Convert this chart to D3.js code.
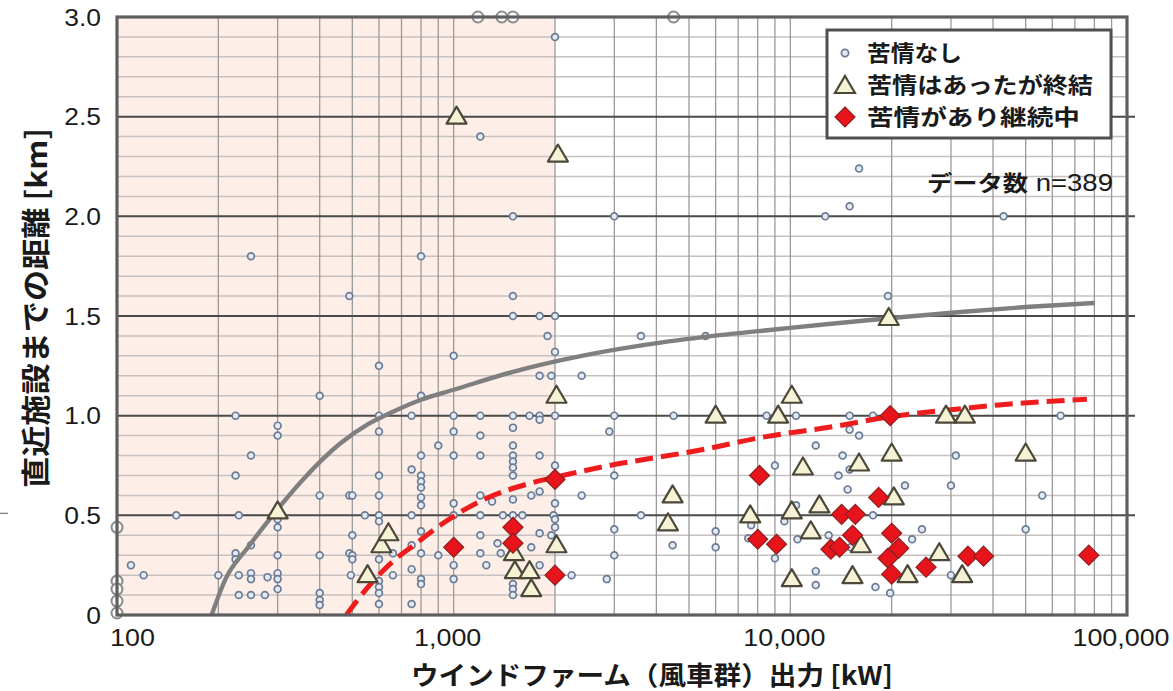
<!DOCTYPE html>
<html>
<head>
<meta charset="utf-8">
<script src="https://cdn.jsdelivr.net/npm/d3@7"></script>
<style>
  body { margin: 0; background: #fff; }
  svg { display: block; }
  .jp { font-family: "Noto Sans CJK JP", "Noto Sans", sans-serif; font-weight: 700; fill: #1a1a1a; }
  .num { font-family: "Liberation Sans", Arial, sans-serif; fill: #1a1a1a; }
</style>
</head>
<body>
<svg class="chart" width="1173" height="691"></svg>
<script>
// ---- data (kW, km) ----
const xTicks = [100, 1000, 10000, 100000];
const xTickLabels = ["100", "1,000", "10,000", "100,000"];
const yTicks = [0, 0.5, 1.0, 1.5, 2.0, 2.5, 3.0];
const yTickLabels = ["0", "0.5", "1.0", "1.5", "2.0", "2.5", "3.0"];
const shadedRange = [100, 2000];

const seriesNames = ["苦情なし", "苦情はあったが終結", "苦情があり継続中"];
const noteText = ["データ数", " n=389"];
const xTitle = "ウインドファーム（風車群）出力 [kW]";
const yTitle = "直近施設までの距離 [km]";

// 苦情なし
const noComplaint = [
  [1180,3.0],[1390,3.0],[1500,3.0],[4500,3.0],
  [100,0.44],[100,0.17],[100,0.13],[100,0.07],[100,0.01],
  [2000,2.9],[1200,2.4],[1500,2.0],[3000,2.0],[12700,2.0],[43000,2.0],[15000,2.05],[16000,2.24],
  [250,1.8],[800,1.8],[490,1.6],[1500,1.6],[19500,1.6],
  [1500,1.5],[1800,1.5],[2000,1.5],[1900,1.4],[3600,1.4],[5600,1.4],[2000,1.32],[1000,1.3],[600,1.25],
  [1800,1.2],[1950,1.2],[2400,1.2],[400,1.1],[800,1.1],
  [225,1.0],[600,1.0],[750,1.0],[1000,1.0],[1200,1.0],[1500,1.0],[1680,1.0],[1800,1.0],[2000,1.0],
  [3000,1.0],[4500,1.0],[8500,1.0],[10400,1.0],[15000,1.0],[17600,1.0],[63500,1.0],
  [1800,0.98],[300,0.95],[300,0.9],[600,0.92],[1000,0.92],[1500,0.94],[2900,0.92],[1200,0.9],
  [15000,0.93],[16000,0.9],[900,0.85],[1500,0.85],[11900,0.85],
  [250,0.8],[800,0.8],[1000,0.8],[1200,0.8],[1500,0.8],[1800,0.8],[14300,0.8],[31000,0.8],
  [1500,0.77],[1500,0.74],[2000,0.75],[750,0.73],[9000,0.75],[15000,0.73],[13900,0.7],
  [225,0.7],[600,0.7],[800,0.7],[1500,0.7],[3000,0.7],[800,0.67],[800,0.64],[14800,0.63],[21900,0.65],[30000,0.65],
  [400,0.6],[490,0.6],[500,0.6],[600,0.6],[1200,0.6],[1700,0.6],[2400,0.6],[56000,0.6],[1800,0.62],
  [800,0.59],[1500,0.58],[1300,0.57],[1000,0.56],[2000,0.56],[800,0.55],[10400,0.55],
  [150,0.5],[230,0.5],[545,0.5],[600,0.5],[750,0.5],[1000,0.5],[1200,0.5],[1400,0.5],[1500,0.5],
  [1600,0.5],[1980,0.5],[3600,0.5],[17600,0.5],
  [300,0.48],[300,0.44],[600,0.47],[2000,0.48],[2000,0.44],[9600,0.47],[7650,0.45],
  [500,0.4],[800,0.42],[1200,0.4],[1800,0.41],[1950,0.4],[3000,0.43],[6000,0.42],[24600,0.43],[50000,0.43],[13000,0.4],
  [7500,0.385],[10500,0.38],[23000,0.38],[250,0.35],[750,0.35],[1350,0.36],[1700,0.34],[4470,0.35],[6000,0.34],[15100,0.34],
  [225,0.31],[300,0.3],[400,0.3],[490,0.31],[500,0.3],[660,0.31],[800,0.31],[900,0.3],[1200,0.31],[1380,0.31],[3000,0.3],
  [225,0.28],[500,0.28],[600,0.28],[9000,0.285],[110,0.25],[1000,0.25],[1250,0.25],[1800,0.25],[750,0.23],[11900,0.22],
  [120,0.2],[200,0.2],[230,0.2],[250,0.21],[280,0.19],[300,0.21],[495,0.2],[660,0.2],[2240,0.2],[30000,0.2],
  [250,0.18],[300,0.18],[600,0.17],[800,0.18],[1000,0.18],[2850,0.18],[800,0.155],[1500,0.155],[600,0.14],
  [300,0.13],[1500,0.13],[11900,0.15],[17900,0.14],
  [230,0.1],[250,0.1],[275,0.1],[400,0.11],[600,0.11],[1500,0.1],[19800,0.11],[400,0.075],[400,0.05],[600,0.055],[750,0.055]
];

// 苦情はあったが終結
const resolved = [
  [1020,2.5],[2040,2.31],[2020,1.1],[19600,1.49],[10100,1.1],[6000,1.0],[9200,1.0],[29000,1.0],[33000,1.0],
  [20000,0.81],[50000,0.81],[16000,0.76],[10900,0.74],[300,0.52],[4470,0.6],[4330,0.46],[7600,0.5],
  [10100,0.52],[12200,0.55],[20300,0.59],[11500,0.42],[16200,0.35],[27700,0.31],[10100,0.18],[15300,0.195],
  [22300,0.2],[32400,0.2],[555,0.2],[610,0.35],[640,0.41],[2020,0.35],[1510,0.31],[1520,0.22],[1680,0.22],[1700,0.13]
];

// 苦情があり継続中
const ongoing = [
  [1000,0.34],[1500,0.44],[1500,0.36],[2000,0.2],[2000,0.68],
  [8100,0.7],[19800,1.0],[18300,0.59],[14200,0.505],[15600,0.505],[8000,0.38],[9100,0.355],[15300,0.40],
  [13200,0.33],[14000,0.34],[20000,0.41],[21000,0.335],[19500,0.285],[20000,0.205],[25300,0.24],
  [33700,0.295],[37500,0.295],[77000,0.3]
];

// guide curves
const grayCurve = [
  [191,0],[210,0.18],[245,0.34],[290,0.5],[357,0.68],[460,0.86],[560,0.96],[660,1.02],[800,1.08],
  [1000,1.13],[1500,1.22],[2400,1.3],[3700,1.355],[5900,1.40],[9300,1.435],[13000,1.46],[20000,1.49],
  [32000,1.52],[50000,1.545],[80000,1.565]
];
const redCurve = [
  [480,0],[563,0.15],[661,0.27],[775,0.36],[930,0.46],[1220,0.577],[1680,0.66],[2110,0.70],[2710,0.74],
  [5500,0.83],[8470,0.895],[13400,0.945],[19800,0.995],[33200,1.037],[41700,1.054],[76000,1.082]
];

// ---- layout ----
const svg = d3.select(".chart");
const plot = { left: 117, right: 1127, top: 17, bottom: 615 };

const x = d3.scaleLog().domain([100, 100000]).range([plot.left, plot.right]);
const y = d3.scaleLinear().domain([0, 3]).range([plot.bottom, plot.top]);

// shaded band (small output farms)
svg.append("rect")
  .attr("x", x(shadedRange[0])).attr("y", plot.top)
  .attr("width", x(shadedRange[1]) - x(shadedRange[0]))
  .attr("height", plot.bottom - plot.top)
  .attr("fill", "#fdefe8");

// minor horizontal grid every 0.1 km
const minorY = d3.range(1, 30).map(i => i / 10).filter(v => Math.abs(v * 2 - Math.round(v * 2)) > 1e-6);
svg.append("g").selectAll("line").data(minorY).enter().append("line")
  .attr("x1", plot.left).attr("x2", plot.right)
  .attr("y1", d => y(d)).attr("y2", d => y(d))
  .attr("stroke", "#c6c0c0").attr("stroke-width", 1.5);

// vertical grid at 1..9 x decade
const minorX = [];
[100, 1000, 10000].forEach(dec => { for (let k = 2; k <= 10; k++) minorX.push(dec * k); });
svg.append("g").selectAll("line").data(minorX).enter().append("line")
  .attr("x1", d => x(d)).attr("x2", d => x(d))
  .attr("y1", plot.top).attr("y2", plot.bottom)
  .attr("stroke", "#9a9a9a").attr("stroke-width", 1.3);

// major horizontal grid
svg.append("g").selectAll("line").data(yTicks.slice(1, -1)).enter().append("line")
  .attr("x1", plot.left).attr("x2", plot.right + 8)
  .attr("y1", d => y(d)).attr("y2", d => y(d))
  .attr("stroke", "#4a4a4a").attr("stroke-width", 2);

// stray tick at far left (as in source)
svg.append("line").attr("x1", 0).attr("x2", 8)
  .attr("y1", y(0.5) - 2).attr("y2", y(0.5) - 2)
  .attr("stroke", "#777").attr("stroke-width", 1.2);

// 苦情なし circles
const isEdge = d => d[0] <= 100 || d[1] >= 3;
svg.append("g").selectAll("circle").data(noComplaint).enter().append("circle")
  .attr("cx", d => x(d[0])).attr("cy", d => y(d[1]))
  .attr("r", d => isEdge(d) ? 5.5 : 3.4)
  .attr("fill", d => isEdge(d) ? "#ffffff" : "#e4eaf2")
  .attr("stroke", d => isEdge(d) ? "#8a8a8a" : "#6b7b95")
  .attr("stroke-width", d => isEdge(d) ? 2 : 1.7);

// guide curves
const line = d3.line().x(d => x(d[0])).y(d => y(d[1])).curve(d3.curveMonotoneX);
svg.append("path").datum(grayCurve).attr("d", line)
  .attr("fill", "none").attr("stroke", "#7f7f7f").attr("stroke-width", 4.4);
svg.append("path").datum(redCurve).attr("d", line)
  .attr("fill", "none").attr("stroke", "#ee1c1c").attr("stroke-width", 5)
  .attr("stroke-dasharray", "18,8");

// triangles and diamonds
const triPath = (cx, cy) => `M${cx},${cy - 10}L${cx + 10},${cy + 7}L${cx - 10},${cy + 7}Z`;
const diaPath = (cx, cy) => `M${cx},${cy - 10}L${cx + 10},${cy}L${cx},${cy + 10}L${cx - 10},${cy}Z`;

svg.append("g").selectAll("path").data(resolved).enter().append("path")
  .attr("d", d => triPath(x(d[0]), y(d[1])))
  .attr("fill", "#f5f2d6").attr("stroke", "#4b4839").attr("stroke-width", 2.2)
  .attr("stroke-linejoin", "round");

svg.append("g").selectAll("path").data(ongoing).enter().append("path")
  .attr("d", d => diaPath(x(d[0]), y(d[1])))
  .attr("fill", "#e8141b").attr("stroke", "#8e1f1f").attr("stroke-width", 1.2);

// frame
svg.append("rect")
  .attr("x", plot.left).attr("y", plot.top)
  .attr("width", plot.right - plot.left).attr("height", plot.bottom - plot.top)
  .attr("fill", "none").attr("stroke", "#5e5e5e").attr("stroke-width", 3.2);

// y tick labels
svg.append("g").selectAll("text").data(yTicks).enter().append("text")
  .attr("class", "num")
  .attr("transform", d => `translate(101,${y(d)}) scale(1.1,1)`)
  .attr("text-anchor", "end").attr("dy", "0.36em")
  .attr("font-size", 24)
  .text((d, i) => yTickLabels[i]);

// x tick labels
svg.append("g").selectAll("text").data(xTicks).enter().append("text")
  .attr("class", "num")
  .attr("transform", (d, i) => i === 0 ? `translate(${x(d) - 7},637) scale(1.12,1)` : `translate(${x(d) - 6},637) scale(1.12,1)`)
  .attr("text-anchor", (d, i) => i === 0 ? "start" : "middle")
  .attr("dy", "0.36em")
  .attr("font-size", 24)
  .text((d, i) => xTickLabels[i]);

// axis titles
svg.append("text").attr("class", "jp")
  .attr("x", 411).attr("y", 685)
  .attr("font-size", 26)
  .attr("textLength", 482).attr("lengthAdjust", "spacingAndGlyphs")
  .text(xTitle);

svg.append("text").attr("class", "jp")
  .attr("transform", "translate(47,488) rotate(-90)")
  .attr("font-size", 29)
  .attr("textLength", 360).attr("lengthAdjust", "spacingAndGlyphs")
  .text(yTitle);

// legend
const lg = svg.append("g");
lg.append("rect").attr("x", 827).attr("y", 30).attr("width", 284).attr("height", 108)
  .attr("fill", "#fff").attr("stroke", "#4f4f4f").attr("stroke-width", 3);
const legendRows = [53, 85, 117];
const legendWidths = [95, 226, 213];
lg.append("circle").attr("cx", 845).attr("cy", legendRows[0]).attr("r", 3.6)
  .attr("fill", "#e4eaf2").attr("stroke", "#6b7b95").attr("stroke-width", 1.7);
lg.append("path").attr("d", triPath(845, legendRows[1] + 1))
  .attr("fill", "#f5f2d6").attr("stroke", "#4b4839").attr("stroke-width", 2.2);
lg.append("path").attr("d", diaPath(845, legendRows[2]))
  .attr("fill", "#e8141b").attr("stroke", "#8e1f1f").attr("stroke-width", 1.2);
lg.selectAll("text.lab").data(seriesNames).enter().append("text")
  .attr("class", "jp lab")
  .attr("x", 867).attr("y", (d, i) => legendRows[i]).attr("dy", "0.36em")
  .attr("font-size", 22)
  .attr("textLength", (d, i) => legendWidths[i]).attr("lengthAdjust", "spacingAndGlyphs")
  .text(d => d);

// sample size note
const note = svg.append("text").attr("class", "jp")
  .attr("x", 927).attr("y", 183).attr("dy", "0.36em")
  .attr("font-size", 22)
  .attr("textLength", 186).attr("lengthAdjust", "spacingAndGlyphs");
note.append("tspan").text(noteText[0]);
note.append("tspan").attr("font-family", "Liberation Sans, Arial, sans-serif").attr("font-weight", 400).attr("font-size", 24).text(noteText[1]);
</script>
</body>
</html>
